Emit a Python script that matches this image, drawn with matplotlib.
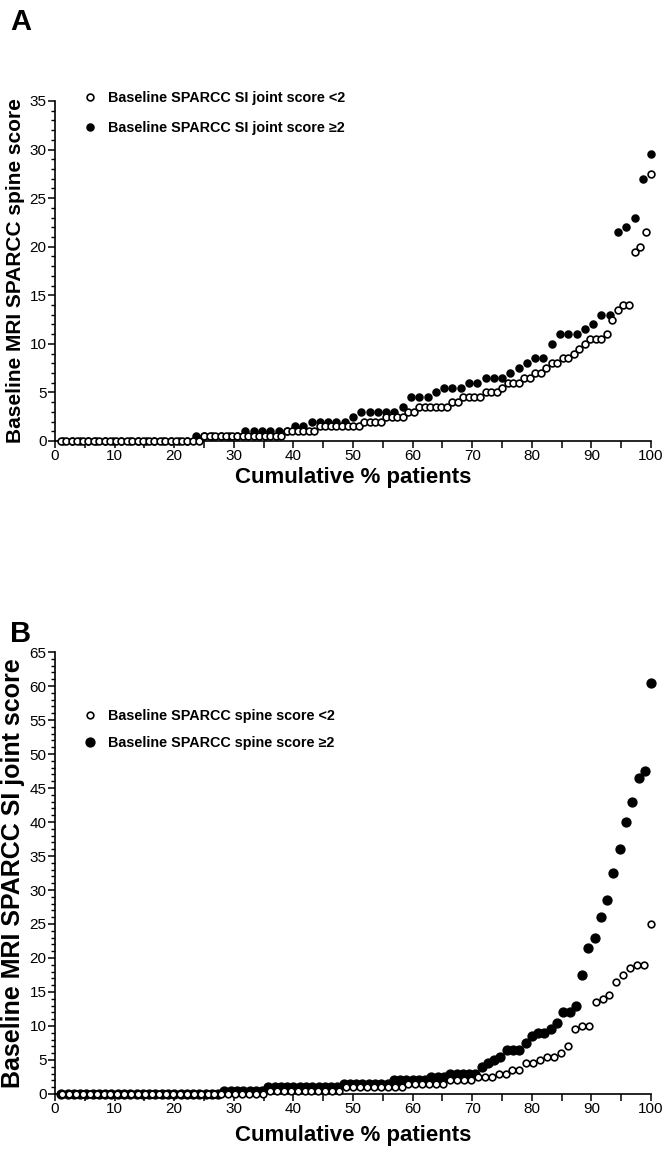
import numpy as np
import matplotlib
matplotlib.use("Agg")
import matplotlib.pyplot as plt
from matplotlib.ticker import MultipleLocator

plt.rcParams['font.family'] = ['Liberation Sans', 'DejaVu Sans']

# ---- panel A : MRI spine score, split by SI joint score ----
a_low_lbl = 'Baseline SPARCC SI joint score <2'
a_high_lbl = 'Baseline SPARCC SI joint score \u22652'
a_low = ([0]*26 + [0.5]*15 + [1]*6 + [1.5]*8 + [2]*4 + [2.5]*4 + [3]*2 + [3.5]*6
         + [4]*2 + [4.5]*4 + [5]*3 + [5.5] + [6]*3 + [6.5]*2 + [7]*2 + [7.5] + [8]*2
         + [8.5]*2 + [9] + [9.5] + [10] + [10.5]*3 + [11] + [12.5] + [13.5] + [14]*2
         + [19.5, 20, 21.5, 27.5])
a_high = ([0]*16 + [0.5]*6 + [1]*6 + [1.5]*2 + [2]*5 + [2.5] + [3]*5 + [3.5] + [4.5]*3
          + [5] + [5.5]*3 + [6]*2 + [6.5]*3 + [7] + [7.5] + [8] + [8.5]*2 + [10] + [11]*3
          + [11.5] + [12] + [13]*2 + [21.5, 22, 23, 27, 29.5])

# ---- panel B : MRI SI joint score, split by spine score ----
b_low_lbl = 'Baseline SPARCC spine score <2'
b_high_lbl = 'Baseline SPARCC spine score \u22652'
b_low = ([0]*30 + [0.5]*11 + [1]*9 + [1.5]*6 + [2]*4 + [2.5]*3 + [3]*2 + [3.5]*2
         + [4.5]*2 + [5] + [5.5]*2 + [6] + [7] + [9.5] + [10]*2 + [13.5, 14, 14.5]
         + [16.5, 17.5, 18.5, 19, 19, 25])
b_high = ([0]*26 + [0.5]*7 + [1]*12 + [1.5]*8 + [2]*6 + [2.5]*3 + [3]*5 + [4, 4.5, 5, 5.5]
          + [6.5]*3 + [7.5, 8.5, 9, 9, 9.5, 10.5, 12, 12, 13, 17.5, 21.5, 23, 26, 28.5,
             32.5, 36, 40, 43, 46.5, 47.5, 60.5])


def cum_pct(vals):
    n = len(vals)
    return np.arange(1, n + 1) * 100.0 / n


fig = plt.figure(figsize=(6.63, 11.49), dpi=100)
axA = fig.add_axes([0.083, 0.6162, 0.899, 0.2959])
axB = fig.add_axes([0.083, 0.0479, 0.899, 0.3846])

# ax, low, high, labels, ymax, ylabel, ylabel size, xlabel pad, tag, tag y,
# open ms, filled ms, legend y, legend spacing
panels = [
    (axA, a_low, a_high, a_low_lbl, a_high_lbl, 35,
     'Baseline MRI SPARCC spine score', 15, 3, 'A', 0.974, 4.9, 5.1, 1.03, 1.15),
    (axB, b_low, b_high, b_low_lbl, b_high_lbl, 65,
     'Baseline MRI SPARCC SI joint score', 18, 6, 'B', 0.441, 4.8, 6.4, 0.872, 0.95),
]

for (ax, low, high, llbl, hlbl, ymax, ylab, yls, xpad, tag, tagy,
     ms_o, ms_f, ly, lsp) in panels:
    hf, = ax.plot(cum_pct(high), high, 'o', ms=ms_f, mfc='black', mec='black',
                  ls='none', clip_on=False, zorder=3)
    ho, = ax.plot(cum_pct(low), low, 'o', ms=ms_o, mfc='white', mec='black',
                  mew=1.2, ls='none', clip_on=False, zorder=4)
    ax.set_xlim(0, 100)
    ax.set_ylim(0, ymax)
    for s in ['top', 'right']:
        ax.spines[s].set_visible(False)
    for s in ['left', 'bottom']:
        ax.spines[s].set_linewidth(1.2)
    ax.xaxis.set_major_locator(MultipleLocator(10))
    ax.xaxis.set_minor_locator(MultipleLocator(5))
    ax.yaxis.set_major_locator(MultipleLocator(5))
    ax.yaxis.set_minor_locator(MultipleLocator(1))
    ax.tick_params(which='major', length=5, width=1.1, labelsize=11, pad=1)
    ax.tick_params(which='minor', length=3, width=1.0)
    ax.tick_params(axis='x', which='minor', length=5, width=1.1)
    ax.set_xlabel('Cumulative % patients', fontsize=16, fontweight='bold', labelpad=xpad)
    ax.set_ylabel(ylab, fontsize=yls, fontweight='bold')
    ax.yaxis.set_label_coords(-0.05, 0.5)
    ax.legend([ho, hf], [llbl, hlbl], loc='upper left', bbox_to_anchor=(0.052, ly),
              frameon=False, handlelength=0.6, handletextpad=0.9, labelspacing=lsp,
              borderaxespad=0, borderpad=0,
              prop={'weight': 'bold', 'size': 10.4})
    fig.text(0.015, tagy, tag, fontsize=21, fontweight='bold', va='baseline')

fig.savefig('out.png', dpi=100)
